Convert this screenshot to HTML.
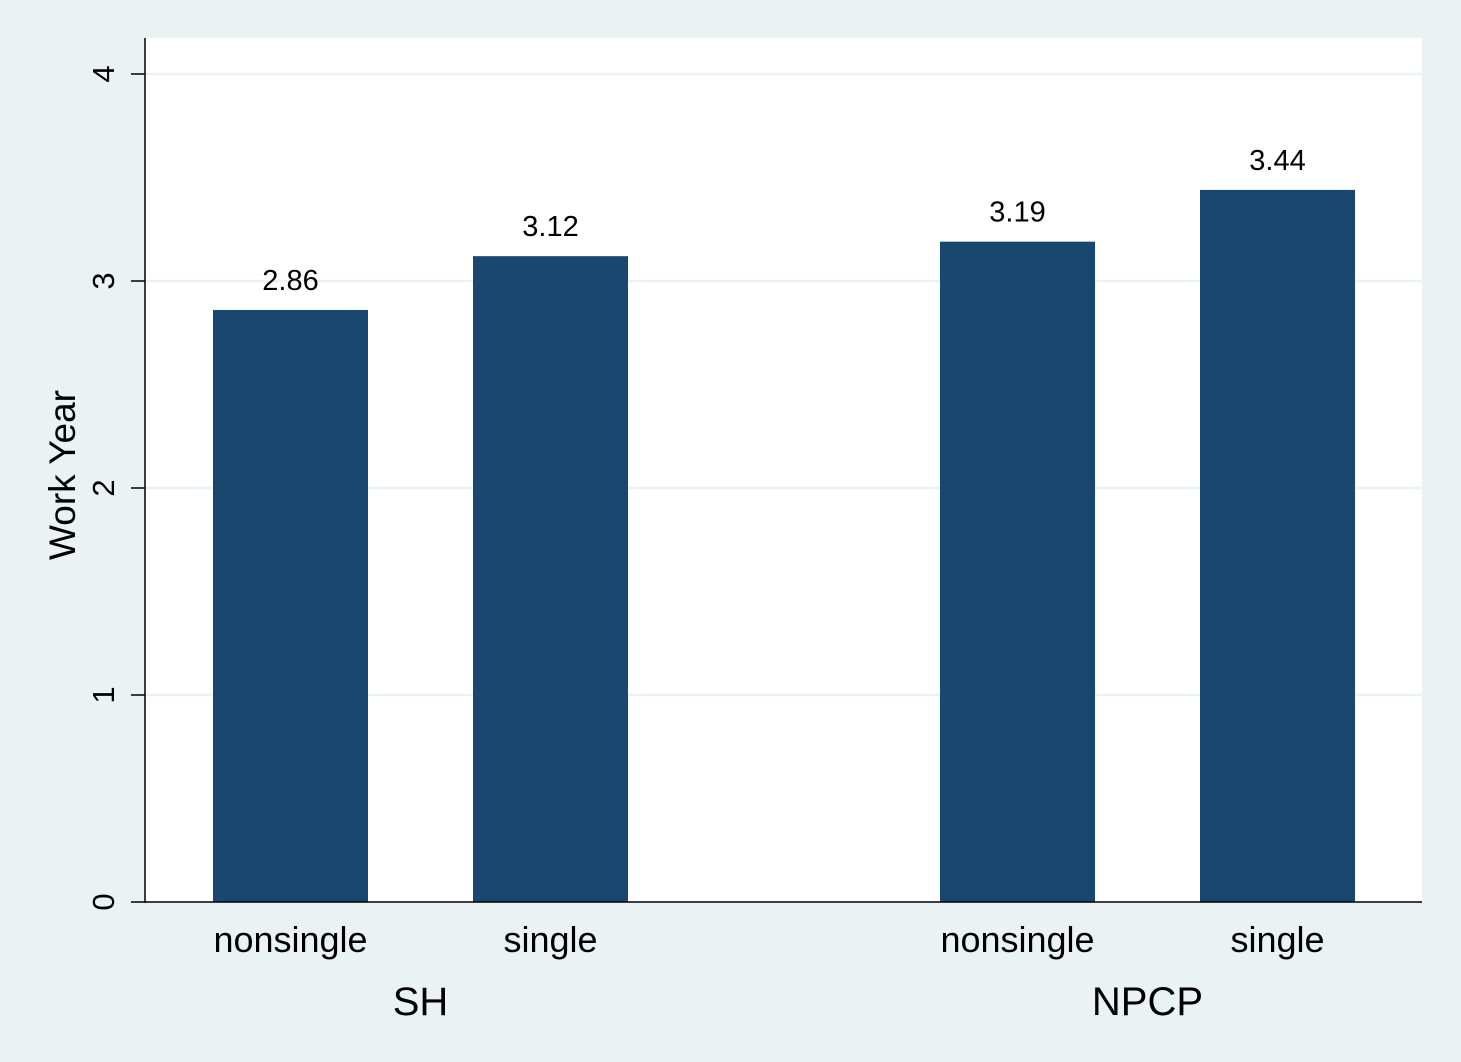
<!DOCTYPE html>
<html><head><meta charset="utf-8"><style>
body{margin:0;background:#eaf2f3;}
svg{display:block;font-family:"Liberation Sans",Arial,sans-serif;}
</style></head><body>
<svg id="chart" width="1461" height="1062">
<rect x="0" y="0" width="1461" height="1062" fill="#eaf2f3"/>
<rect x="145" y="38" width="1277" height="864" fill="#ffffff"/>
<g id="grid"></g>
<g id="bars"></g>
<g id="axes"></g>
</svg>
<script>
const categories = ["nonsingle","single","nonsingle","single"];
const groups = ["SH","NPCP"];
const values = [2.86,3.12,3.19,3.44];
const labels = ["2.86","3.12","3.19","3.44"];
const yTicks = [0,1,2,3,4];

const NS="http://www.w3.org/2000/svg";
const y0=902, pxPerUnit=207;
function yScale(v){return y0-v*pxPerUnit;}
const barX=[213,473,940,1200], barW=155;
function xScale(i){return barX[i];}
function mk(tag,attrs,parent){const e=document.createElementNS(NS,tag);for(const k in attrs)e.setAttribute(k,attrs[k]);parent.appendChild(e);return e;}
const grid=document.getElementById('grid'),bars=document.getElementById('bars'),axes=document.getElementById('axes');

yTicks.forEach(t=>{
  const y=yScale(t);
  if(t>0){const g=mk('line',{x1:146,x2:1422,y1:y,y2:y,stroke:'#eaf2f3','stroke-width':2.5},grid);
  
  }
  const tk=mk('line',{x1:131,x2:145,y1:y,y2:y,stroke:'#000','stroke-width':1.5},axes);
  
  
  const tx=mk('text',{x:0,y:0,transform:`translate(114,${y}) rotate(-90)`,'text-anchor':'middle','font-size':31,fill:'#000'},axes);
  tx.textContent=t;
  
  
});

values.forEach((v,i)=>{
  const x=xScale(i),y=yScale(v);
  const r=mk('rect',{x:x,y:y,width:barW,height:y0-y,fill:'#1a476f'},bars);
  
  
  const t=mk('text',{x:x+barW/2,y:y-20,'text-anchor':'middle','font-size':29,fill:'#000'},bars);
  t.textContent=labels[i];
  
  
  const c=mk('text',{x:x+barW/2,y:952,'text-anchor':'middle','font-size':36,fill:'#000'},axes);
  c.textContent=categories[i];
  
  
});
groups.forEach((g,j)=>{
  const cx=(xScale(j*2)+xScale(j*2+1)+barW)/2;
  const t=mk('text',{x:cx,y:1015,'text-anchor':'middle','font-size':40,fill:'#000'},axes);
  t.textContent=g;
  
  
});
const ya=mk('line',{x1:145,x2:145,y1:38,y2:903,stroke:'#000','stroke-width':1.5},axes);


const xa=mk('line',{x1:145,x2:1422,y1:902,y2:902,stroke:'#000','stroke-width':1.5},axes);


const yt=mk('text',{x:0,y:0,transform:'translate(75,475) rotate(-90)','text-anchor':'middle','font-size':37,fill:'#000'},axes);
yt.textContent='Work Year';


</script>
</body></html>
